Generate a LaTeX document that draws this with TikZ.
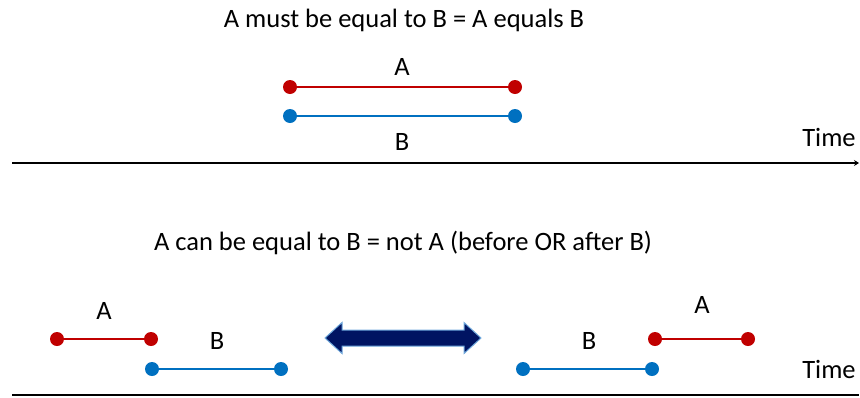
\documentclass[tikz,border=0pt]{standalone}
\usepackage{fontspec}
\setmainfont{Carlito}
\usetikzlibrary{arrows.meta}
\definecolor{ared}{HTML}{C00000}
\definecolor{bblue}{HTML}{0070C0}
\definecolor{navy}{HTML}{001462}
\definecolor{lblue}{HTML}{6FA8DC}
\begin{document}
\begin{tikzpicture}[x=1pt,y=-1pt,
  txt/.style={font=\fontsize{26.5}{30}\selectfont,inner sep=0pt,anchor=center},
  adot/.style={circle,fill=ared,inner sep=0pt,minimum size=14pt},
  bdot/.style={circle,fill=bblue,inner sep=0pt,minimum size=14pt},
  aline/.style={draw=ared,line width=2.6pt},
  bline/.style={draw=bblue,line width=2.6pt},
  axis/.style={draw=black,line width=2.4pt}]
\useasboundingbox (0,0) rectangle (860,397);
% top section
\node[txt] (t1) at (404,20) {A must be equal to B = A equals B};
\node[adot] (a1l) at (290,87) {};
\node[adot] (a1r) at (515,87) {};
\node[bdot] (b1l) at (290,116) {};
\node[bdot] (b1r) at (515,116) {};
\draw[aline] (a1l) -- (a1r);
\draw[bline] (b1l) -- (b1r);
\node[txt] (la1) at (402,67) {A};
\node[txt] (lb1) at (402,142) {B};
\coordinate (ax1s) at (12,163);
\coordinate (ax1e) at (859,163);
\draw[axis,-{Stealth[length=5pt,width=6pt]}] (ax1s) -- (ax1e);
\node[txt] (time1) at (829,137) {Time};
% bottom section
\node[txt] (t2) at (403,243) {A can be equal to B = not A (before OR after B)};
\node[adot] (a2l) at (57,339) {};
\node[adot] (a2r) at (151,339) {};
\node[bdot] (b2l) at (152,369) {};
\node[bdot] (b2r) at (281,369) {};
\draw[aline] (a2l) -- (a2r);
\draw[bline] (b2l) -- (b2r);
\node[txt] (la2) at (104,311) {A};
\node[txt] (lb2) at (217,341) {B};
\node[bdot] (b3l) at (523,369) {};
\node[bdot] (b3r) at (652,369) {};
\node[adot] (a3l) at (655,339) {};
\node[adot] (a3r) at (748,339) {};
\draw[aline] (a3l) -- (a3r);
\draw[bline] (b3l) -- (b3r);
\node[txt] (lb3) at (589,341) {B};
\node[txt] (la3) at (702,305) {A};
\draw[draw=lblue, fill=navy, line width=1pt, line join=miter]
  (325,338) -- (342,322.5) -- (342,330) -- (464,330) -- (464,322.5) -- (481,338)
  -- (464,353.5) -- (464,346) -- (342,346) -- (342,353.5) -- cycle;
\coordinate (ax2s) at (12,395);
\coordinate (ax2e) at (859,395);
\draw[axis] (ax2s) -- (ax2e);
\node[txt] (time2) at (829,369) {Time};
\end{tikzpicture}
\end{document}
